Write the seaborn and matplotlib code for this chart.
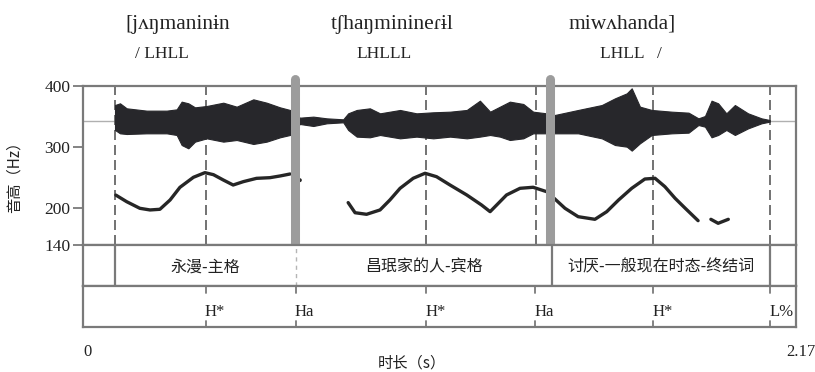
import numpy as np
import pandas as pd
import matplotlib
matplotlib.use("Agg")
import matplotlib.pyplot as plt
import seaborn as sns

# ---------------- data ----------------
# pitch contour (time in s, pitch in Hz), one list per voiced stretch
seg1_t = [0.100, 0.133, 0.173, 0.204, 0.234, 0.265, 0.295, 0.336, 0.371, 0.397,
          0.427, 0.457, 0.488, 0.528, 0.569, 0.600, 0.630]
seg1_hz = [221.6, 210.8, 200.0, 197.3, 198.4, 213.6, 234.3, 250.7, 258.3, 255.0,
           246.3, 238.1, 243.6, 249.0, 250.1, 252.9, 256.1]
seg2_t = [0.807, 0.828, 0.863, 0.904, 0.934, 0.965, 1.005, 1.041, 1.076, 1.117,
          1.168, 1.213, 1.239, 1.259, 1.289, 1.330, 1.370, 1.411]
seg2_hz = [209.3, 192.8, 190.2, 197.3, 213.6, 232.7, 249.1, 257.3, 251.7, 238.1,
           221.8, 205.4, 194.5, 205.4, 221.8, 232.7, 234.4, 227.2]
seg3_t = [1.434, 1.467, 1.507, 1.558, 1.594, 1.630, 1.670, 1.710, 1.741, 1.771,
          1.802, 1.833, 1.872]
seg3_hz = [216.3, 200.0, 186.3, 182.0, 194.5, 213.6, 232.7, 247.9, 249.1, 235.4,
           216.4, 200.0, 179.8]
seg4_t = [1.911, 1.933, 1.964]
seg4_hz = [182.0, 175.5, 182.0]
dot_t = [0.660]
dot_hz = [246.0]

# waveform envelope drawn in the same panel (upper / lower edge, Hz units)
wave_t = [0.0974, 0.1126, 0.1329, 0.1937, 0.2546, 0.2851, 0.3003, 0.3206, 0.3409, 0.3764,
          0.4271, 0.4677, 0.5184, 0.5590, 0.5996, 0.6300,
          0.660, 0.701, 0.742, 0.792,
          0.807, 0.833, 0.873, 0.904, 0.965, 1.015, 1.066, 1.117, 1.168, 1.208,
          1.239, 1.269, 1.299, 1.340, 1.370, 1.411,
          1.436, 1.507, 1.579, 1.619, 1.655, 1.670, 1.695, 1.731, 1.792, 1.843,
          1.873, 1.893, 1.913, 1.933, 1.958, 1.984, 2.024, 2.065, 2.090]
wave_upper = [368.9, 371.7, 363.5, 359.7, 359.7, 361.8, 374.4, 371.7, 365.1, 367.3,
              372.7, 366.2, 378.2, 372.7, 365.1, 360.8,
              348.2, 349.9, 347.1, 345.5,
              355.3, 360.8, 363.5, 355.3, 360.8, 355.3, 357.0, 358.0, 360.8, 376.0,
              358.0, 366.2, 374.4, 370.6, 358.0, 355.3,
              352.6, 360.8, 368.9, 379.8, 388.0, 396.2, 366.2, 360.8, 358.0, 356.4,
              347.1, 350.9, 376.0, 371.7, 355.3, 368.9, 355.3, 347.1, 344.4]
wave_lower = [328.1, 322.6, 321.5, 322.6, 322.6, 319.9, 303.5, 298.1, 309.0, 314.4,
              309.0, 311.7, 305.2, 309.0, 316.1, 319.9,
              337.9, 334.6, 339.0, 340.6,
              328.1, 317.2, 316.1, 319.9, 314.4, 317.2, 314.4, 317.2, 314.4, 317.2,
              319.9, 317.2, 311.7, 314.4, 322.6, 322.6,
              322.6, 322.6, 314.4, 303.5, 300.8, 294.3, 306.3, 319.9, 322.6, 323.7,
              336.2, 333.5, 316.1, 319.9, 328.1, 319.9, 330.7, 339.0, 341.7]
wave_center = 342.6

# annotation times
phrase_bars = [0.645, 1.420]
dashed_times = [0.0959, 0.374, 1.044, 1.380, 1.735, 2.091]
word_bounds = [0.0959, 0.648, 1.427, 2.091]
word_labels = ["永漫-主格", "昌珉家的人-宾格", "讨厌-一般现在时态-终结词"]
tone_labels = ["H*", "Ha", "H*", "Ha", "H*", "L%"]
tone_times = [0.374, 0.648, 1.044, 1.376, 1.735, 2.091]
yticks = [140, 200, 300, 400]
ipa_labels = ["[jʌŋmaninɨn", "tʃhaŋminineɾɨl", "miwʌhanda]"]
tone_strings = ["/ LHLL", "LHLLL", "LHLL   /"]
t_max = 2.17

# ---------------- style ----------------
sns.set_theme(style="white")
serif = ["Liberation Serif", "DejaVu Serif"]
cjk = ["Noto Sans CJK SC", "DejaVu Sans"]
plt.rcParams["font.family"] = cjk

W, H = 815, 372
fig = plt.figure(figsize=(W / 100, H / 100), dpi=100)
fig.patch.set_facecolor("white")

def fx(px):
    return px / W

def fy(py):
    return 1 - py / H

L, R = 83, 796
ax = fig.add_axes([fx(L), fy(245), fx(R - L), (245 - 86) / H])
ax1 = fig.add_axes([fx(L), fy(286), fx(R - L), 41 / H])
ax2 = fig.add_axes([fx(L), fy(327), fx(R - L), 41 / H])

frame_c = "#7a7a7a"
for a in (ax, ax1, ax2):
    a.set_xlim(0, t_max)
    for s in a.spines.values():
        s.set_color(frame_c)
        s.set_linewidth(1.6)
    a.set_xticks([])
    a.set_facecolor("white")
ax1.set_yticks([]); ax2.set_yticks([])
ax1.set_ylim(0, 1); ax2.set_ylim(0, 1)

# ---- pitch panel ----
ax.set_ylim(140, 400)
ax.axhline(wave_center, color="#b0b0b0", lw=1.0, zorder=1)
ax.fill_between(wave_t, wave_lower, wave_upper, color="#27272b", lw=0.8,
                edgecolor="#27272b", zorder=3)

for t in dashed_times:
    ax.axvline(t, color="#5a5a5a", lw=1.2, ls=(0, (6, 3)), zorder=2)

pitch = pd.concat([
    pd.DataFrame({"t": seg1_t, "hz": seg1_hz, "seg": 1}),
    pd.DataFrame({"t": seg2_t, "hz": seg2_hz, "seg": 2}),
    pd.DataFrame({"t": seg3_t, "hz": seg3_hz, "seg": 3}),
    pd.DataFrame({"t": seg4_t, "hz": seg4_hz, "seg": 4}),
])
sns.lineplot(data=pitch, x="t", y="hz", units="seg", estimator=None,
             color="#262626", lw=2.4, ax=ax, zorder=4, legend=False)
sns.scatterplot(x=dot_t, y=dot_hz, color="#262626", s=8, ax=ax, zorder=4,
                legend=False, edgecolor="none")

for t in phrase_bars:
    ax.plot([t, t], [140, 412], color="#9c9c9c", lw=6.5, solid_capstyle="round",
            clip_on=False, zorder=5)

ax.set_yticks(yticks)
ax.set_yticklabels([str(v) for v in yticks], fontfamily=serif, fontsize=12.5,
                   color="#222")
ax.tick_params(axis="y", direction="out", length=7, width=1.3, color=frame_c,
               left=True, pad=2)
ax.set_xlabel("")
ax.set_ylabel("音高（Hz）", fontsize=11, color="#222")
ax.yaxis.set_label_coords((23 - L) / (R - L), (245 - 173) / 159)

# ---- word tier ----
for i, t in enumerate(word_bounds):
    if i == 1:
        ax1.axvline(t, color="#b5b5b5", lw=1.0, ls=(0, (3, 3)))
    else:
        ax1.axvline(t, color=frame_c, lw=1.6)
for lab, a, b in zip(word_labels, word_bounds[:-1], word_bounds[1:]):
    ax1.text((a + b) / 2, 0.47, lab, ha="center", va="center", fontsize=11.5,
             color="#222", fontfamily=cjk)

# ---- tone tier ----
for lab, t in zip(tone_labels, tone_times):
    ax2.plot([t, t], [1, 0.84], color=frame_c, lw=1.3)
    ax2.plot([t, t], [0, 0.14], color=frame_c, lw=1.3)
    ax2.text(t - 0.003, 0.36, lab, ha="left", va="center", fontsize=12,
             color="#222", fontfamily=serif)

# ---- bottom labels ----
fig.text(fx(88), fy(352), "0", ha="center", va="center", fontsize=12,
         fontfamily=serif, color="#222")
fig.text(fx(801), fy(352), f"{t_max:.2f}", ha="center", va="center", fontsize=12,
         fontfamily=serif, color="#222")
fig.text(fx(412), fy(363), "时长（s）", ha="center", va="center", fontsize=11,
         color="#222", fontfamily=cjk)

# ---- header (IPA and tones) ----
ipa_x = [178, 392, 622]
tone_x = [162, 384, 631]
for lab, x in zip(ipa_labels, ipa_x):
    fig.text(fx(x), fy(24), lab, ha="center", va="center", fontsize=15.5,
             fontfamily=serif, color="#222")
for lab, x in zip(tone_strings, tone_x):
    fig.text(fx(x), fy(54), lab, ha="center", va="center", fontsize=12.5,
             fontfamily=serif, color="#222")

fig.savefig("out.png", dpi=100, facecolor="white")
